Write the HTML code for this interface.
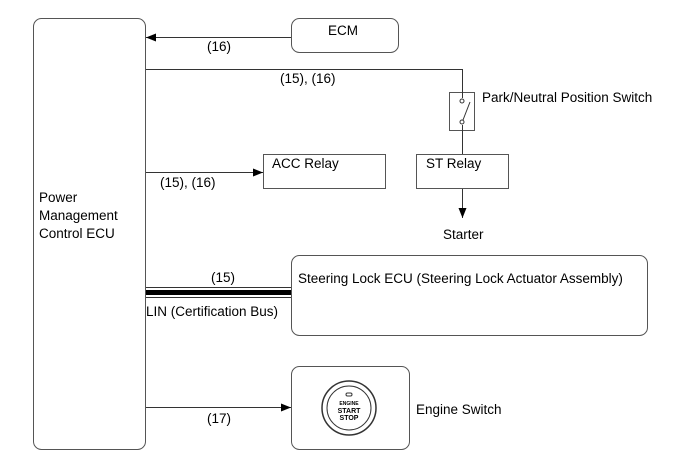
<!DOCTYPE html>
<html><head><style>
body{margin:0;background:#fff;}
svg text{font-family:"Liberation Sans",Arial,sans-serif;font-size:13.5px;fill:#000;}
</style></head><body>
<svg width="690" height="465" viewBox="0 0 690 465" xmlns="http://www.w3.org/2000/svg">
<defs><marker id="a" markerWidth="10" markerHeight="8" refX="10" refY="4" orient="auto" markerUnits="userSpaceOnUse"><path d="M0,0 L10,4 L0,8 Z" fill="#000"/></marker></defs>
<g fill="none" stroke="#555" stroke-width="1">
<rect x="33.5" y="18.5" width="112" height="431" rx="8"/>
<rect x="291.5" y="18.5" width="107" height="34" rx="8"/>
<rect x="449.5" y="92.5" width="25" height="38"/>
<rect x="263.5" y="154.5" width="122" height="34"/>
<rect x="416.5" y="154.5" width="92" height="34"/>
<rect x="291.5" y="255.5" width="356" height="80" rx="8"/>
<rect x="291.5" y="366.5" width="118" height="83" rx="8"/>
</g>
<g stroke="#333" stroke-width="1" fill="none">
<line x1="291" y1="37.5" x2="146" y2="37.5" marker-end="url(#a)"/>
<polyline points="146,69.5 462.5,69.5 462.5,98"/>
<line x1="462.5" y1="125" x2="462.5" y2="154"/>
<line x1="146" y1="172.5" x2="263" y2="172.5" marker-end="url(#a)"/>
<line x1="462.5" y1="189" x2="462.5" y2="218" marker-end="url(#a)"/>
<line x1="146" y1="407.5" x2="291" y2="407.5" marker-end="url(#a)"/>
<line x1="146" y1="287.5" x2="291" y2="287.5"/>
<line x1="146" y1="297.5" x2="291" y2="297.5"/>
<circle cx="462" cy="101" r="2"/><circle cx="462" cy="122" r="2"/>
<line x1="463" y1="120" x2="470" y2="102"/>
</g>
<rect x="146" y="290" width="145" height="5" fill="#000"/>
<g fill="none" stroke="#333">
<circle cx="349" cy="408" r="27" stroke-width="1.5"/>
<circle cx="349" cy="408" r="22"/>
<rect x="346" y="393" width="6" height="3" rx="1.5"/>
</g>
<text x="328" y="35">ECM</text>
<text x="207" y="51">(16)</text>
<text x="280" y="83">(15), (16)</text>
<text x="482" y="102">Park/Neutral Position Switch</text>
<text x="272" y="168">ACC Relay</text>
<text x="160" y="187">(15), (16)</text>
<text x="426" y="168">ST Relay</text>
<text x="443" y="239">Starter</text>
<text x="39" y="202">Power</text>
<text x="39" y="220">Management</text>
<text x="39" y="238">Control ECU</text>
<text x="211" y="282">(15)</text>
<text x="298" y="283">Steering Lock ECU (Steering Lock Actuator Assembly)</text>
<text x="146" y="316">LIN (Certification Bus)</text>
<text x="207" y="423">(17)</text>
<text x="416" y="414">Engine Switch</text>
<text x="349" y="405" text-anchor="middle" style="font-size:5px;font-weight:bold">ENGINE</text>
<text x="349" y="413" text-anchor="middle" style="font-size:7px;font-weight:bold">START</text>
<text x="349" y="420" text-anchor="middle" style="font-size:7px;font-weight:bold">STOP</text>
</svg>
</body></html>
